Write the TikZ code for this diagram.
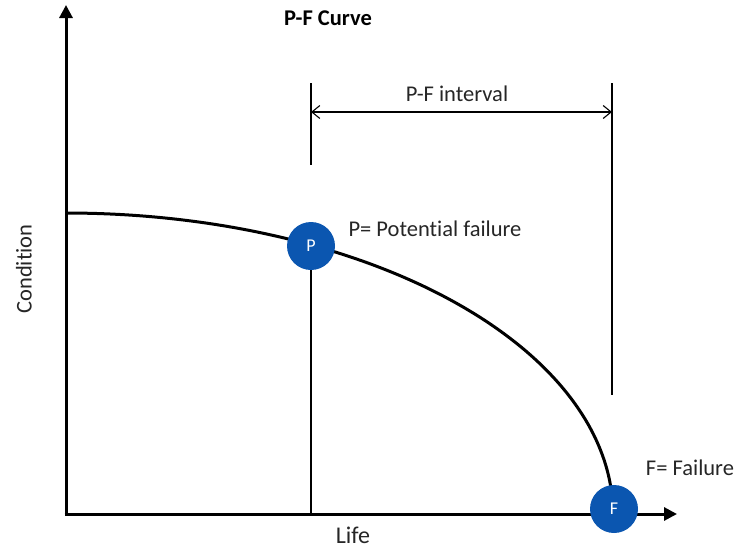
\documentclass[tikz,border=0pt]{standalone}
\usepackage{fontspec}
\setmainfont[Ligatures={NoCommon}]{Carlito}
\usetikzlibrary{arrows.meta}
\definecolor{dotblue}{RGB}{11,86,176}
\definecolor{labelgray}{RGB}{38,38,38}
\begin{document}
\begin{tikzpicture}[x=1pt,y=-1pt,
  axisline/.style={line width=3pt,-{Triangle[length=13pt,width=13pt]}},
  curveline/.style={line width=3pt},
  thinline/.style={line width=1.1pt},
  dimline/.style={line width=1.1pt,{Straight Barb[length=8pt,width=13pt]}-{Straight Barb[length=8pt,width=13pt]}},
  dot/.style={circle,fill=dotblue,minimum size=48pt,inner sep=0pt,text=white,font=\fontsize{18}{20}\selectfont},
  lbl/.style={text=labelgray,font=\fontsize{22.5}{26}\selectfont,inner sep=0pt}]
\useasboundingbox (0,0) rectangle (737,549);
% axes
\coordinate (O) at (66,514);
\coordinate (Ytip) at (66,5);
\coordinate (Xtip) at (677,514);
\draw[axisline] (64.5,514) -- (Xtip);
\draw[axisline] (66,515.5) -- (Ytip);
% curve (quarter ellipse)
\draw[curveline,smooth] plot[domain=90:0,samples=80] ({66+547*cos(\x)},{514-301*sin(\x)});
% reference lines
\coordinate (Ptop) at (311,83);
\coordinate (Pmid) at (311,165);
\coordinate (Ftop) at (612,83);
\coordinate (Fmid) at (612,395);
\coordinate (A1) at (311,112);
\coordinate (A2) at (612,112);
\draw[thinline] (Ptop) -- (Pmid);
\draw[thinline] (Ftop) -- (Fmid);
\draw[dimline] (A1) -- (A2);
% dots
\node[dot] (P) at (311,246) {P};
\node[dot] (F) at (614,509) {F};
\draw[thinline] (P.south) -- (P |- O);
% labels
\node[font=\bfseries\fontsize{22.5}{26}\selectfont,inner sep=0pt] (title) at (328,18) {P-F Curve};
\node[lbl] (interval) at (457,94) {P-F interval};
\node[lbl] (plabel) at (435,229) {P= Potential failure};
\node[lbl] (flabel) at (690,468) {F= Failure};
\node[lbl,rotate=90] (cond) at (24,269) {Condition};
\node[lbl,font=\fontsize{24}{28}\selectfont] (life) at (353,535) {Life};
\end{tikzpicture}
\end{document}
